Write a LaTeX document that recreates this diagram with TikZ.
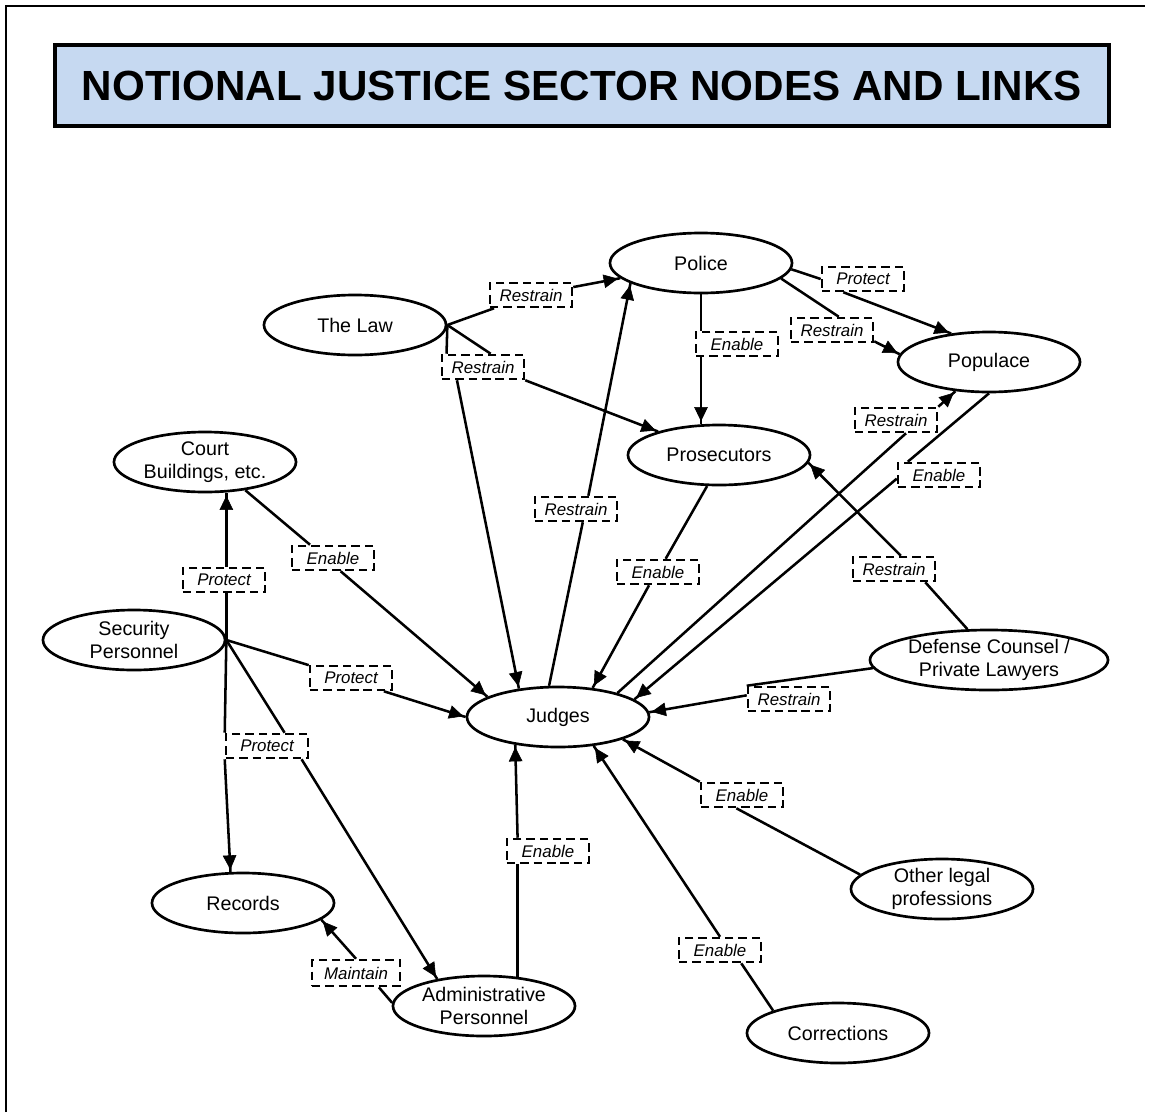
\documentclass[tikz,border=0pt]{standalone}
\usepackage{fontspec}
\setmainfont{Liberation Sans}
\usepackage{xcolor}
\definecolor{titleblue}{RGB}{198,217,241}
\usetikzlibrary{positioning, calc, shapes.geometric, arrows.meta, decorations.markings}
\tikzstyle{Actor} = [
ellipse, draw,
line width=1.9pt,
minimum width=4.55cm, minimum height=1.5cm,
inner sep=0pt, align=center,
font=\fontsize{14}{16.3}\selectfont]
\tikzstyle{Link} = [
draw, fill=white,
line width=1.8pt, dash pattern=on 6pt off 3.5pt,
minimum width=2.05cm, minimum height=0.6cm,
inner sep=0pt,
font=\fontsize{12}{14}\selectfont\itshape]
\tikzstyle{Line} = [line width=1.8pt]
\tikzstyle{Arrow} = [
line width=1.8pt,
decoration={
markings,
mark=at position 1 with {
\arrow{Triangle[length=12.5pt,width=11.5pt]}}},
preaction = {decorate}]

\begin{document}
\begin{tikzpicture}[x=0.025cm, y=-0.025cm]
        \useasboundingbox (0,0) rectangle (1149,1112);
        \draw[line width=1.3pt] (6,1112) -- (6,6) -- (1145,6);
        \node[draw, line width=2.8pt, fill=titleblue, minimum width=26.34cm, minimum height=2.02cm,
              font=\fontsize{30}{36}\selectfont\bfseries] (title) at (581.75,85.5)
              {NOTIONAL JUSTICE SECTOR NODES AND LINKS};

        % actors
        \node[Actor] (police) at (701,263) {Police};
        \node[Actor] (law) at (355,325) {The Law};
        \node[Actor] (populace) at (989,362) {Populace};
        \node[Actor] (pros) at (719,455) {Prosecutors};
        \node[Actor] (court) at (205,462) {Court\\Buildings, etc.};
        \node[Actor] (security) at (134,640) {Security\\Personnel};
        \node[Actor] (judges) at (558,717) {Judges};
        \node[Actor, minimum width=5.95cm] (defense) at (989,660) {Defense Counsel /\\Private Lawyers};
        \node[Actor] (other) at (942,889) {Other legal\\professions};
        \node[Actor] (records) at (243,903) {Records};
        \node[Actor] (admin) at (484,1006) {Administrative\\Personnel};
        \node[Actor] (corrections) at (838,1033) {Corrections};

        % link labels
        \node[Link] (rLawPol) at (531,295) {Restrain};
        \node[Link] (rLaw) at (483,367) {Restrain};
        \node[Link] (ePolPro) at (737,344) {Enable};
        \node[Link] (pPolPop) at (863,279) {Protect};
        \node[Link] (rPolPop) at (832,330) {Restrain};
        \node[Link] (rJudPop) at (896,420) {Restrain};
        \node[Link] (ePopJud) at (939,475) {Enable};
        \node[Link] (rJudPol) at (576,509) {Restrain};
        \node[Link] (eProJud) at (658,572) {Enable};
        \node[Link] (rDefPro) at (894,569) {Restrain};
        \node[Link] (eCouJud) at (333,558) {Enable};
        \node[Link] (pSecCou) at (224,580) {Protect};
        \node[Link] (pSecJud) at (351,678) {Protect};
        \node[Link] (pSecRec) at (267,746) {Protect};
        \node[Link] (rDefJud) at (789,699) {Restrain};
        \node[Link] (eOthJud) at (742,795) {Enable};
        \node[Link] (eAdmJud) at (548,851) {Enable};
        \node[Link, minimum width=2.2cm, minimum height=0.65cm] (mAdmRec) at (356,973) {Maintain};
        \node[Link] (eCorJud) at (720,950) {Enable};

        % the law
        \draw[Line] (law.east) -- (rLawPol);
        \draw[Arrow] (rLawPol) -- (police);
        \draw[Line] (law.east) -- (rLaw.160);
        \draw[Line] (law.east) -- (rLaw.60);
        \draw[Arrow] (rLaw.207) -- (judges.144);
        \draw[Arrow] (rLaw.south east) -- (pros);

        % police
        \draw[Line] (police.south) -- (police.south |- ePolPro.north);
        \draw[Arrow] (police.south |- ePolPro.south) -- (police.south |- pros.north);
        \draw[Line] (police.-4) -- (pPolPop.west);
        \draw[Arrow] (pPolPop.214) -- (populace.143);
        \draw[Line] (police.-11) -- (rPolPop.63);
        \draw[Arrow] (rPolPop.-15) -- (populace.175);

        % judges, populace, police
        \draw[Line] (judges.22) -- (rJudPop.-53);
        \draw[Arrow] (rJudPop.north east) -- (populace.221);
        \draw[Line] (populace.south) -- (ePopJud.157);
        \draw[Arrow] (ePopJud.185) -- (judges.13);
        \draw[Line] (judges.106) -- (rJudPol.297);
        \draw[Arrow] (rJudPol.47) -- (police.196);

        % prosecutors, defense
        \draw[Line] (pros.249) -- (eProJud.60);
        \draw[Arrow] (eProJud.236) -- (judges.40);
        \draw[Line] (defense.125) -- (rDefPro.337);
        \draw[Arrow] (rDefPro.63) -- (pros.355);
        \draw[Line] (defense.184) -- (rDefJud.north west);
        \draw[Arrow] (rDefJud.175) -- (judges.3);

        % other, corrections, admin
        \draw[Line] (other.170) -- (eOthJud.247);
        \draw[Arrow] (eOthJud.north west) -- (judges.341);
        \draw[Line] (corrections.161) -- (eCorJud.328);
        \draw[Arrow] (eCorJud.north) -- (judges.321);
        \draw[Line] (admin.41) -- (admin.41 |- eAdmJud.south);
        \draw[Arrow] (admin.41 |- eAdmJud.north) -- (judges.213);
        \draw[Line] (admin.178) -- (mAdmRec.328);
        \draw[Arrow] (mAdmRec.north) -- (records.348);

        % security, court
        \draw[Line] (security.east) -- (security.east |- pSecCou.south);
        \draw[Arrow] (security.east |- pSecCou.north) -- (security.east |- court.south);
        \draw[Line] (security.east) -- (pSecJud);
        \draw[Arrow] (pSecJud.338) -- (judges.west);
        \draw[Line] (security.east) -- (pSecRec.north west);
        \draw[Arrow] (pSecRec.south west) -- (records.112);
        \draw[Line] (security.east) -- (pSecRec.37);
        \draw[Arrow] (pSecRec.339) -- (admin.150);
        \draw[Line] (court.325) -- (eCouJud.150);
        \draw[Arrow] (eCouJud.300) -- (judges.164);
    \end{tikzpicture}
\end{document}
